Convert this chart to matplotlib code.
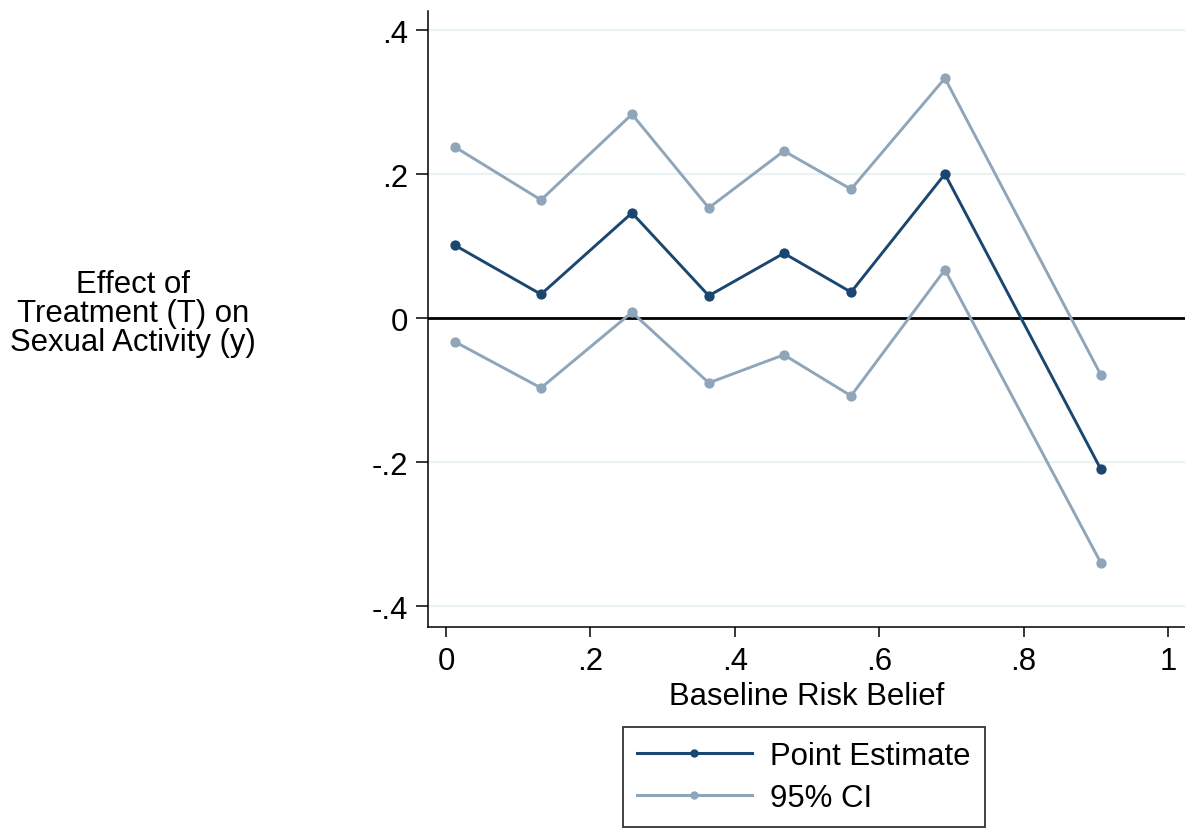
import matplotlib
matplotlib.use("Agg")
import matplotlib.pyplot as plt
from matplotlib.lines import Line2D

plt.rcParams['font.family'] = ['Liberation Sans', 'DejaVu Sans']

# Baseline risk belief bins and estimated treatment effects
risk_belief = [0.0125, 0.1316, 0.2576, 0.3640, 0.4680, 0.5610, 0.6910, 0.9070]
point_estimate = [0.101, 0.033, 0.146, 0.031, 0.090, 0.036, 0.200, -0.210]
ci_upper = [0.2375, 0.164, 0.283, 0.153, 0.232, 0.179, 0.333, -0.079]
ci_lower = [-0.033, -0.097, 0.008, -0.090, -0.051, -0.108, 0.067, -0.340]

x_ticks = [0, 0.2, 0.4, 0.6, 0.8, 1.0]
x_tick_labels = ['0', '.2', '.4', '.6', '.8', '1']
y_ticks = [-0.4, -0.2, 0, 0.2, 0.4]
y_tick_labels = ['-.4', '-.2', '0', '.2', '.4']

navy = '#1a476f'
light = '#8fa5ba'
grid_col = '#eaf2f3'
FS = 22.4

W, H = 1185, 829
fig = plt.figure(figsize=(W / 100, H / 100), dpi=100)
ax = fig.add_axes([428 / W, 1 - 628 / H, (W - 428) / W, (628 - 12) / H])

ax.set_xlim(-0.0249, 1.0235)
ax.set_ylim(-0.429, 0.4264)

for yv in y_ticks:
    if yv != 0:
        ax.axhline(yv, color=grid_col, lw=1.6, zorder=0)
ax.axhline(0, color='black', lw=2.0, zorder=1)

lw = 2.1
ms = 7.4
ax.plot(risk_belief, ci_upper, color=light, lw=lw, marker='o', ms=ms,
        markeredgewidth=0, zorder=2)
ax.plot(risk_belief, ci_lower, color=light, lw=lw, marker='o', ms=ms,
        markeredgewidth=0, zorder=2)
ax.plot(risk_belief, point_estimate, color=navy, lw=lw, marker='o', ms=ms,
        markeredgewidth=0, zorder=3)

ax.set_xticks(x_ticks)
ax.set_xticklabels(x_tick_labels)
ax.set_yticks(y_ticks)
ax.set_yticklabels(y_tick_labels)
ax.tick_params(axis='both', labelsize=FS, width=1.1, color='black')
ax.tick_params(axis='y', length=8.5, pad=6)
ax.tick_params(axis='x', length=7.5, pad=6)

for side in ['top', 'right']:
    ax.spines[side].set_visible(False)
for side in ['left', 'bottom']:
    ax.spines[side].set_linewidth(1.1)

ax.set_xlabel('Baseline Risk Belief', fontsize=FS, labelpad=4)

fig.text(133 / W, 1 - 314 / H, 'Effect of\nTreatment (T) on\nSexual Activity (y)',
         ha='center', va='center', multialignment='center', fontsize=FS,
         linespacing=0.95)

handles = [
    Line2D([], [], color=navy, lw=2.2, marker='o', ms=6, markeredgewidth=0),
    Line2D([], [], color=light, lw=2.2, marker='o', ms=6, markeredgewidth=0),
]
leg = fig.legend(handles, ['Point Estimate', '95% CI'], loc='upper left',
                 bbox_to_anchor=(623 / W, 1 - 728 / H), fontsize=FS,
                 frameon=True, fancybox=False, edgecolor='black',
                 handlelength=3.7, handletextpad=0.6, borderpad=0.44,
                 labelspacing=0.4, borderaxespad=0)
leg.get_frame().set_linewidth(1.3)

fig.savefig('out.png', dpi=100)
